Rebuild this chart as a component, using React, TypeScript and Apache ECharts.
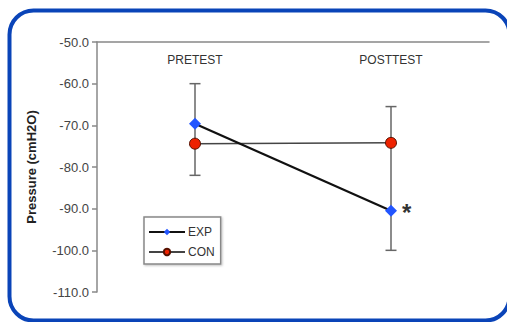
import React, { useEffect, useRef } from "react";
import * as echarts from "echarts";

const categories = ["PRETEST", "POSTTEST"];
const expMeans = [-69.6, -90.5];
const conMeans = [-74.4, -74.2];
const errLow = [-82, -100];
const errHigh = [-60, -65.5];
const significant = [false, true];
const yMin = -110;
const yMax = -50;
const yStep = 10;

export default function App() {
  const ref = useRef<HTMLDivElement>(null);
  useEffect(() => {
    if (!ref.current) return;
    const chart = echarts.init(ref.current, undefined, { renderer: "svg" });
    const font = "'Liberation Sans', Arial, sans-serif";
    const expData = expMeans.map((v, i) =>
      significant[i]
        ? {
            value: v,
            label: {
              show: true,
              formatter: "*",
              position: "right",
              distance: 5,
              offset: [0, 2],
              fontSize: 24,
              fontWeight: "bold",
              color: "#333",
              fontFamily: font,
            },
          }
        : v
    );
    const errData = categories.map((_, i) => [i, errLow[i], errHigh[i]]);
    chart.setOption({
      animation: false,
      backgroundColor: "#ffffff",
      textStyle: { fontFamily: font },
      graphic: [
        {
          type: "rect",
          shape: { x: 9.5, y: 10.5, width: 500, height: 310, r: 24 },
          style: { fill: "none", stroke: "#0a44b8", lineWidth: 4 },
          silent: true,
          z: 10,
        },
      ],
      grid: { left: 97, right: 18, top: 42, bottom: 30 },
      legend: {
        orient: "vertical",
        left: 144,
        top: 217,
        padding: [9, 6, 6, 4],
        itemGap: 8,
        itemWidth: 36,
        itemHeight: 8,
        borderColor: "#888",
        borderWidth: 1.5,
        backgroundColor: "#fff",
        shadowColor: "rgba(0,0,0,0.25)",
        shadowBlur: 2,
        shadowOffsetX: 1,
        shadowOffsetY: 1,
        textStyle: { fontSize: 12, color: "#333", fontFamily: font, padding: [0, 0, 0, -2] },
        data: ["EXP", "CON"],
      },
      xAxis: {
        type: "category",
        position: "top",
        data: categories,
        boundaryGap: true,
        axisLine: { lineStyle: { color: "#888", width: 1.5 } },
        axisTick: { inside: true, length: 4, lineStyle: { color: "#888", width: 1.5 } },
        axisLabel: { inside: true, margin: 12, fontSize: 12, color: "#333", fontFamily: font },
        splitLine: { show: false },
      },
      yAxis: {
        type: "value",
        min: yMin,
        max: yMax,
        interval: yStep,
        name: "Pressure (cmH2O)",
        nameLocation: "middle",
        nameGap: 59,
        nameTextStyle: { fontSize: 13, fontWeight: "bold", color: "#222", fontFamily: font },
        axisLine: { show: true, lineStyle: { color: "#888", width: 1.5 } },
        axisTick: { show: true, length: 5, lineStyle: { color: "#888", width: 1.5 } },
        axisLabel: {
          fontSize: 13,
          color: "#444",
          margin: 8,
          fontFamily: font,
          formatter: (v: number) => v.toFixed(1),
        },
        splitLine: { show: false },
      },
      series: [
        {
          type: "custom",
          name: "err",
          z: 1,
          encode: { x: 0, y: [1, 2] },
          data: errData,
          renderItem: (params: any, api: any) => {
            const lo = api.coord([api.value(0), api.value(1)]);
            const hi = api.coord([api.value(0), api.value(2)]);
            const hw = 5.5;
            const st = { stroke: "#666", lineWidth: 1.5 };
            return {
              type: "group",
              children: [
                { type: "line", shape: { x1: lo[0], y1: lo[1], x2: hi[0], y2: hi[1] }, style: st },
                { type: "line", shape: { x1: lo[0] - hw, y1: lo[1], x2: lo[0] + hw, y2: lo[1] }, style: st },
                { type: "line", shape: { x1: hi[0] - hw, y1: hi[1], x2: hi[0] + hw, y2: hi[1] }, style: st },
              ],
            };
          },
        },
        {
          type: "line",
          name: "CON",
          z: 3,
          data: conMeans,
          symbol: "circle",
          symbolSize: 11,
          lineStyle: { color: "#444", width: 1.5 },
          itemStyle: { color: "#ee2200", borderColor: "#551100", borderWidth: 1 },
        },
        {
          type: "line",
          name: "EXP",
          z: 4,
          data: expData,
          symbol: "diamond",
          symbolSize: 12,
          lineStyle: { color: "#111", width: 2.2 },
          itemStyle: { color: "#2255ff", borderColor: "#2255ff", borderWidth: 0 },
        },
      ],
    });
    return () => chart.dispose();
  }, []);
  return (
    <div
      ref={ref}
      style={{ position: "fixed", left: 0, top: 0, width: 507, height: 322, background: "#fff" }}
    />
  );
}
